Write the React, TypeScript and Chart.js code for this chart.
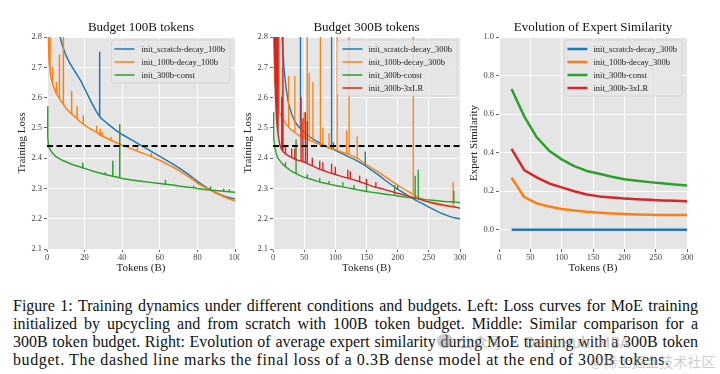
import React, { useEffect, useRef } from 'react';
import { Chart, registerables } from 'chart.js';
Chart.register(...registerables);

const SERIF = '"Liberation Serif", "Times New Roman", serif';
const C_BLUE = '#1f77b4';
const C_ORANGE = '#ff7f0e';
const C_GREEN = '#2ca02c';
const C_RED = '#d62728';

// ---- Budget 100B: [tokens, loss] or [tokens, loss, spikePeak]
const scratch100: number[][] = [
  [6, 2.95], [7, 2.8], [8, 2.775], [10, 2.74], [12, 2.715], [14, 2.695], [16, 2.675], [18, 2.655], [20, 2.63],
  [22, 2.605], [24, 2.58], [26, 2.557], [28, 2.537, 2.75], [30, 2.525], [33, 2.51], [36, 2.495], [40, 2.478],
  [45, 2.46], [50, 2.442], [55, 2.424], [60, 2.406], [65, 2.388], [70, 2.369], [75, 2.347], [80, 2.323],
  [85, 2.302], [90, 2.285], [95, 2.273], [100, 2.265],
];
const upcycle100: number[][] = [
  [0.3, 2.95], [0.7, 2.8, 2.95], [1.1, 2.72], [1.6, 2.69, 2.9], [2.2, 2.665], [3, 2.645, 2.7], [4, 2.627],
  [5, 2.612, 2.65], [6.6, 2.597, 2.74], [7.6, 2.588], [8.7, 2.578, 2.9], [10.5, 2.562], [12, 2.552],
  [13.1, 2.546, 2.62], [14.5, 2.538], [16, 2.531, 2.57], [17.5, 2.521], [19.3, 2.512, 2.54], [21, 2.505],
  [23, 2.497], [25, 2.49], [26.4, 2.486, 2.505], [27.5, 2.48], [28.3, 2.476, 2.495], [29.3, 2.473, 2.485],
  [31, 2.468], [34, 2.459, 2.468], [37, 2.451], [40, 2.443], [44, 2.433], [48, 2.423, 2.432], [52, 2.414],
  [55.5, 2.405, 2.415], [60, 2.393], [65, 2.377], [70, 2.36], [75, 2.34], [78, 2.327, 2.336], [80, 2.317],
  [85, 2.3], [90, 2.285], [95, 2.27], [100, 2.258],
];
const const100: number[][] = [
  [0, 2.57], [0.4, 2.47], [0.8, 2.44], [1.5, 2.43], [2.5, 2.42], [3.5, 2.413], [5, 2.404], [7.5, 2.395],
  [10, 2.388], [13, 2.38], [16, 2.374], [19, 2.368, 2.383], [22, 2.362], [25, 2.356], [28, 2.351],
  [31, 2.346, 2.352], [35, 2.34, 2.39], [38.7, 2.335, 2.51], [40, 2.333], [45, 2.328], [50, 2.324], [55, 2.32],
  [60, 2.316], [63, 2.314, 2.326], [67, 2.311], [70, 2.308], [75, 2.304], [78, 2.302, 2.307], [80, 2.3],
  [85, 2.296], [87, 2.295, 2.305], [90, 2.293], [94, 2.291, 2.298], [97, 2.289, 2.296], [100, 2.287],
];

// ---- Budget 300B
const scratch300: number[][] = [
  [12, 2.95], [15, 2.78], [18, 2.69], [21, 2.63], [25, 2.58], [30, 2.545], [35, 2.522], [40, 2.506],
  [44, 2.497, 2.95], [50, 2.486], [60, 2.469], [70, 2.456], [80, 2.444], [90, 2.434], [94, 2.431, 2.95],
  [97, 2.429, 2.45], [100, 2.426], [110, 2.416], [120, 2.406], [130, 2.397], [140, 2.385], [148, 2.375, 2.42],
  [150, 2.372], [160, 2.358], [170, 2.343], [180, 2.327], [190, 2.312], [200, 2.297, 2.31], [210, 2.285],
  [220, 2.272], [230, 2.26], [240, 2.25], [250, 2.238], [260, 2.228], [270, 2.218], [280, 2.21], [290, 2.203],
  [300, 2.2],
];
const upcycle300: number[][] = [
  [0.5, 2.95], [1, 2.8], [2, 2.71, 2.95], [3, 2.66], [4, 2.63, 2.95], [6, 2.595, 2.95], [8, 2.57, 2.95],
  [10, 2.553, 2.95], [13, 2.54], [15, 2.532, 2.7], [20, 2.516], [25, 2.502, 2.67], [30, 2.492],
  [35, 2.485, 2.67], [40, 2.477], [45, 2.471, 2.52], [50, 2.466, 2.55], [55, 2.462, 2.95], [58, 2.46, 2.68],
  [60, 2.458], [64, 2.455, 2.65], [70, 2.449], [76, 2.445, 2.95], [80, 2.441, 2.5], [90, 2.434, 2.48],
  [100, 2.428], [103, 2.426, 2.95], [110, 2.421], [118, 2.415, 2.49], [122, 2.412, 2.95], [130, 2.405],
  [135, 2.4, 2.47], [140, 2.393], [150, 2.379], [160, 2.366], [170, 2.353], [180, 2.339], [190, 2.325],
  [200, 2.311], [210, 2.298], [220, 2.286], [225, 2.28, 2.95], [230, 2.274], [240, 2.263], [250, 2.254],
  [260, 2.248], [270, 2.244], [280, 2.241], [289, 2.239, 2.32], [300, 2.236],
];
const const300: number[][] = [
  [0, 2.55], [1, 2.47], [2, 2.45], [4, 2.425], [6, 2.41], [8, 2.4], [11, 2.392], [15, 2.381],
  [20, 2.372, 2.385], [27, 2.361], [32, 2.354], [37, 2.349, 2.46], [42, 2.344], [48, 2.338], [55, 2.334, 2.345],
  [60, 2.331], [68, 2.326], [75, 2.321, 2.333], [82, 2.318], [90, 2.314, 2.323], [102, 2.309],
  [112, 2.305, 2.32], [120, 2.302], [130, 2.298, 2.31], [140, 2.294], [150, 2.29, 2.33], [160, 2.287],
  [170, 2.284], [180, 2.281], [195, 2.277, 2.31], [200, 2.275], [215, 2.271], [228, 2.268, 2.34],
  [233, 2.267, 2.36], [245, 2.263], [260, 2.26], [275, 2.257], [285, 2.256], [290, 2.255, 2.29], [300, 2.253],
];
const lr3x300: number[][] = [
  [0, 2.95], [2, 2.8, 2.95], [4, 2.6, 2.95], [6, 2.52, 2.95], [8, 2.48, 2.8], [11, 2.443], [14, 2.428, 2.6],
  [16, 2.422, 2.95], [20, 2.414, 2.44], [27, 2.405], [30, 2.402, 2.43], [35, 2.397, 2.43], [40, 2.393],
  [45, 2.39, 2.6], [48, 2.388, 2.53], [52, 2.385, 2.55], [55, 2.383, 2.52], [60, 2.377], [63, 2.375, 2.4],
  [70, 2.368], [75, 2.363, 2.39], [80, 2.36, 2.385], [90, 2.352], [94, 2.35, 2.38], [100, 2.346, 2.37],
  [110, 2.34], [120, 2.334, 2.36], [124, 2.332, 2.355], [130, 2.328], [139, 2.322, 2.34], [150, 2.314, 2.33],
  [160, 2.307], [165, 2.304, 2.32], [175, 2.299], [185, 2.293], [200, 2.284], [215, 2.276], [230, 2.267],
  [245, 2.258], [260, 2.251], [275, 2.245], [290, 2.239], [300, 2.235],
];
const denseFinalLoss = 2.44;

// ---- Expert similarity
const simTokens = [20, 40, 60, 80, 100, 120, 140, 160, 180, 200, 220, 240, 260, 280, 300];
const simScratch = [0, 0, 0, 0, 0, 0, 0, 0, 0, 0, 0, 0, 0, 0, 0];
const simUpcycle = [0.27, 0.17, 0.137, 0.12, 0.108, 0.1, 0.093, 0.088, 0.084, 0.081, 0.079, 0.078, 0.077, 0.076, 0.076];
const simConst = [0.73, 0.59, 0.48, 0.41, 0.365, 0.33, 0.305, 0.29, 0.275, 0.262, 0.254, 0.247, 0.241, 0.235, 0.23];
const simLR3x = [0.42, 0.31, 0.272, 0.24, 0.22, 0.2, 0.183, 0.173, 0.167, 0.162, 0.158, 0.155, 0.152, 0.15, 0.148];

const xTicks100 = [0, 20, 40, 60, 80, 100];
const xTicks300 = [0, 50, 100, 150, 200, 250, 300];
const yTicksLoss = [2.1, 2.2, 2.3, 2.4, 2.5, 2.6, 2.7, 2.8];
const yTicksSim = [0, 0.2, 0.4, 0.6, 0.8, 1.0];

function expand(series: number[][]) {
  const out: { x: number; y: number }[] = [];
  for (const p of series) {
    out.push({ x: p[0], y: p[1] });
    if (p.length > 2) {
      out.push({ x: p[0] + 0.01, y: p[2] });
      out.push({ x: p[0] + 0.02, y: p[1] });
    }
  }
  return out;
}

const decoPlugin = {
  id: 'deco',
  beforeDraw(chart: any) {
    const { ctx, chartArea: a } = chart;
    ctx.save();
    ctx.fillStyle = '#e5e5e5';
    ctx.fillRect(a.left, a.top, a.right - a.left, a.bottom - a.top);
    ctx.restore();
  },
  afterDraw(chart: any, _args: any, opts: any) {
    const { ctx, chartArea: a } = chart;
    ctx.save();
    ctx.font = `13px ${SERIF}`;
    ctx.fillStyle = '#111';
    ctx.textAlign = 'center';
    ctx.textBaseline = 'middle';
    ctx.fillText(opts.title, (a.left + a.right) / 2, 28);
    const items = opts.items as { label: string; color: string }[];
    ctx.font = `8.5px ${SERIF}`;
    const tw = Math.max(...items.map((i) => ctx.measureText(i.label).width));
    const w = opts.textOffset + tw + 5;
    const h = items.length * 13 + 4;
    const x0 = a.right - opts.rightGap - w;
    const y0 = a.top + 3;
    ctx.beginPath();
    if ((ctx as any).roundRect) (ctx as any).roundRect(x0, y0, w, h, 3);
    else ctx.rect(x0, y0, w, h);
    ctx.fillStyle = 'rgba(229,229,229,0.82)';
    ctx.fill();
    ctx.strokeStyle = '#d2d2d2';
    ctx.lineWidth = 0.8;
    ctx.stroke();
    ctx.textAlign = 'left';
    ctx.textBaseline = 'middle';
    items.forEach((it, i) => {
      const cy = y0 + 9 + i * 13;
      ctx.beginPath();
      ctx.moveTo(x0 + opts.lineStart, cy);
      ctx.lineTo(x0 + opts.lineStart + 20, cy);
      ctx.strokeStyle = it.color;
      ctx.lineWidth = opts.legendLineWidth;
      ctx.stroke();
      ctx.fillStyle = '#222';
      ctx.fillText(it.label, x0 + opts.textOffset, cy + 0.5);
    });
    ctx.restore();
  },
};

function axisCommon(ticks: number[], min: number, max: number, fmt: (v: number) => string) {
  return {
    type: 'linear',
    min,
    max,
    afterBuildTicks: (s: any) => {
      s.ticks = ticks.map((v) => ({ value: v }));
    },
    grid: { color: '#ffffff', lineWidth: 1, tickColor: '#666', tickLength: 3, drawTicks: true },
    border: { display: false },
    ticks: {
      font: { family: SERIF, size: 8.5 },
      color: '#444',
      padding: 1,
      maxRotation: 0,
      autoSkip: false,
      callback: (v: any) => fmt(Number(v)),
    },
  };
}

function makeConfig(p: {
  datasets: any[];
  xTicks: number[];
  xMax: number;
  yTicks: number[];
  yMin: number;
  yMax: number;
  yTitle: string;
  yWidth: number;
  yTitlePad: number;
  rightPad: number;
  deco: any;
}) {
  const x: any = axisCommon(p.xTicks, 0, p.xMax, (v) => String(v));
  x.afterFit = (s: any) => {
    s.height = 31;
    s.paddingLeft = 0;
    s.paddingRight = 0;
  };
  x.title = {
    display: true,
    text: 'Tokens (B)',
    font: { family: SERIF, size: 11 },
    color: '#222',
    padding: { top: 0, bottom: 5 },
  };
  const y: any = axisCommon(p.yTicks, p.yMin, p.yMax, (v) => v.toFixed(1));
  y.ticks.padding = 2;
  y.afterFit = (s: any) => {
    s.width = p.yWidth;
    s.paddingTop = 0;
    s.paddingBottom = 0;
  };
  y.title = {
    display: true,
    text: p.yTitle,
    font: { family: SERIF, size: 11 },
    color: '#222',
    padding: { top: p.yTitlePad, bottom: 0 },
  };
  return {
    type: 'line',
    data: { datasets: p.datasets },
    options: {
      responsive: false,
      animation: false,
      devicePixelRatio: 1,
      layout: { padding: { left: 0, right: p.rightPad, top: 37, bottom: 0 } },
      elements: { point: { radius: 0 }, line: { tension: 0, borderJoinStyle: 'round' } },
      scales: { x, y },
      plugins: { legend: { display: false }, tooltip: { enabled: false }, title: { display: false }, deco: p.deco },
    },
    plugins: [decoPlugin],
  };
}

function lossDs(data: number[][], color: string, order: number, width = 1.5) {
  return { data: expand(data), borderColor: color, borderWidth: width, order, fill: false };
}
function dashDs(xMax: number) {
  return {
    data: [{ x: 0, y: denseFinalLoss }, { x: xMax, y: denseFinalLoss }],
    borderColor: '#000',
    borderWidth: 2,
    borderDash: [6, 3.5],
    order: 0,
    fill: false,
  };
}
function simDs(vals: number[], color: string, order: number) {
  return {
    data: simTokens.map((t, i) => ({ x: t, y: vals[i] })),
    borderColor: color,
    borderWidth: 2.5,
    order,
    fill: false,
  };
}

function ChartBox({ config, left, width }: { config: any; left: number; width: number }) {
  const ref = useRef<HTMLCanvasElement>(null);
  useEffect(() => {
    const chart = new Chart(ref.current as HTMLCanvasElement, config);
    return () => chart.destroy();
  }, []);
  return (
    <canvas
      ref={ref}
      width={width}
      height={280}
      style={{ position: 'absolute', left, top: 0, width, height: 280 }}
    />
  );
}

export default function App() {
  const cfg1 = makeConfig({
    datasets: [
      lossDs(scratch100, C_BLUE, 4),
      lossDs(upcycle100, C_ORANGE, 3),
      lossDs(const100, C_GREEN, 2),
      dashDs(100),
    ],
    xTicks: xTicks100,
    xMax: 100,
    yTicks: yTicksLoss,
    yMin: 2.1,
    yMax: 2.8,
    yTitle: 'Training Loss',
    yWidth: 47,
    yTitlePad: 15.4,
    rightPad: 5,
    deco: {
      title: 'Budget 100B tokens',
      items: [
        { label: 'init_scratch-decay_100b', color: C_BLUE },
        { label: 'init_100b-decay_100b', color: C_ORANGE },
        { label: 'init_300b-const', color: C_GREEN },
      ],
      textOffset: 30,
      lineStart: 3,
      rightGap: 5,
      legendLineWidth: 1.5,
    },
  });
  const cfg2 = makeConfig({
    datasets: [
      lossDs(scratch300, C_BLUE, 5, 1.4),
      lossDs(upcycle300, C_ORANGE, 4, 1.3),
      lossDs(const300, C_GREEN, 3, 1.4),
      lossDs(lr3x300, C_RED, 2, 1.4),
      dashDs(300),
    ],
    xTicks: xTicks300,
    xMax: 300,
    yTicks: yTicksLoss,
    yMin: 2.1,
    yMax: 2.8,
    yTitle: 'Training Loss',
    yWidth: 37,
    yTitlePad: 5.4,
    rightPad: 10,
    deco: {
      title: 'Budget 300B tokens',
      items: [
        { label: 'init_scratch-decay_300b', color: C_BLUE },
        { label: 'init_100b-decay_300b', color: C_ORANGE },
        { label: 'init_300b-const', color: C_GREEN },
        { label: 'init_300b-3xLR', color: C_RED },
      ],
      textOffset: 31,
      lineStart: 5,
      rightGap: 3,
      legendLineWidth: 1.5,
    },
  });
  const cfg3 = makeConfig({
    datasets: [
      simDs(simScratch, C_BLUE, 5),
      simDs(simUpcycle, C_ORANGE, 4),
      simDs(simConst, C_GREEN, 3),
      simDs(simLR3x, C_RED, 2),
    ],
    xTicks: xTicks300,
    xMax: 300,
    yTicks: yTicksSim,
    yMin: -0.1,
    yMax: 1.0,
    yTitle: 'Expert Similarity',
    yWidth: 37,
    yTitlePad: 5.4,
    rightPad: 33,
    deco: {
      title: 'Evolution of Expert Similarity',
      items: [
        { label: 'init_scratch-decay_300b', color: C_BLUE },
        { label: 'init_100b-decay_300b', color: C_ORANGE },
        { label: 'init_300b-const', color: C_GREEN },
        { label: 'init_300b-3xLR', color: C_RED },
      ],
      textOffset: 29,
      lineStart: 3,
      rightGap: 5,
      legendLineWidth: 2.5,
    },
  });

  const lineStyle: React.CSSProperties = { textAlign: 'justify', textAlignLast: 'justify' as any, whiteSpace: 'normal' };
  return (
    <div style={{ position: 'fixed', left: 0, top: 0, width: 720, height: 374, background: '#fff', overflow: 'hidden' }}>
      <ChartBox config={cfg1} left={0} width={240} />
      <ChartBox config={cfg2} left={236} width={234} />
      <ChartBox config={cfg3} left={462} width={258} />
      <div
        style={{
          position: 'absolute',
          left: 13,
          top: 297,
          width: 685,
          fontFamily: SERIF,
          fontSize: 16,
          lineHeight: '18px',
          color: '#111',
        }}
      >
        <div style={lineStyle}>
          Figure 1: Training dynamics under different conditions and budgets. Left: Loss curves for MoE training
        </div>
        <div style={lineStyle}>
          initialized by upcycling and from scratch with 100B token budget. Middle: Similar comparison for a
        </div>
        <div style={lineStyle}>
          300B token budget. Right: Evolution of average expert similarity during MoE training with a 300B token
        </div>
        <div style={{ letterSpacing: '0.6px', whiteSpace: 'nowrap' }}>
          budget. The dashed line marks the final loss of a 0.3B dense model at the end of 300B tokens.
        </div>
      </div>
      <div
        style={{
          position: 'absolute',
          left: 437,
          top: 334,
          width: 16,
          height: 14,
          borderRadius: 8,
          background: 'rgba(140,140,140,0.45)',
        }}
      />
      <div
        style={{
          position: 'absolute',
          left: 458,
          top: 331,
          fontFamily: '"Noto Sans CJK SC", "Noto Sans", sans-serif',
          fontSize: 15,
          color: 'rgba(140,140,140,0.55)',
          whiteSpace: 'nowrap',
        }}
      >
        公众号 · DeepHub IMBA
      </div>
      <div
        style={{
          position: 'absolute',
          left: 590,
          top: 351,
          fontFamily: '"Noto Sans CJK SC", "Noto Sans", sans-serif',
          fontSize: 14,
          color: 'rgba(160,160,160,0.55)',
          whiteSpace: 'nowrap',
        }}
      >
        @稀土掘金技术社区
      </div>
    </div>
  );
}
